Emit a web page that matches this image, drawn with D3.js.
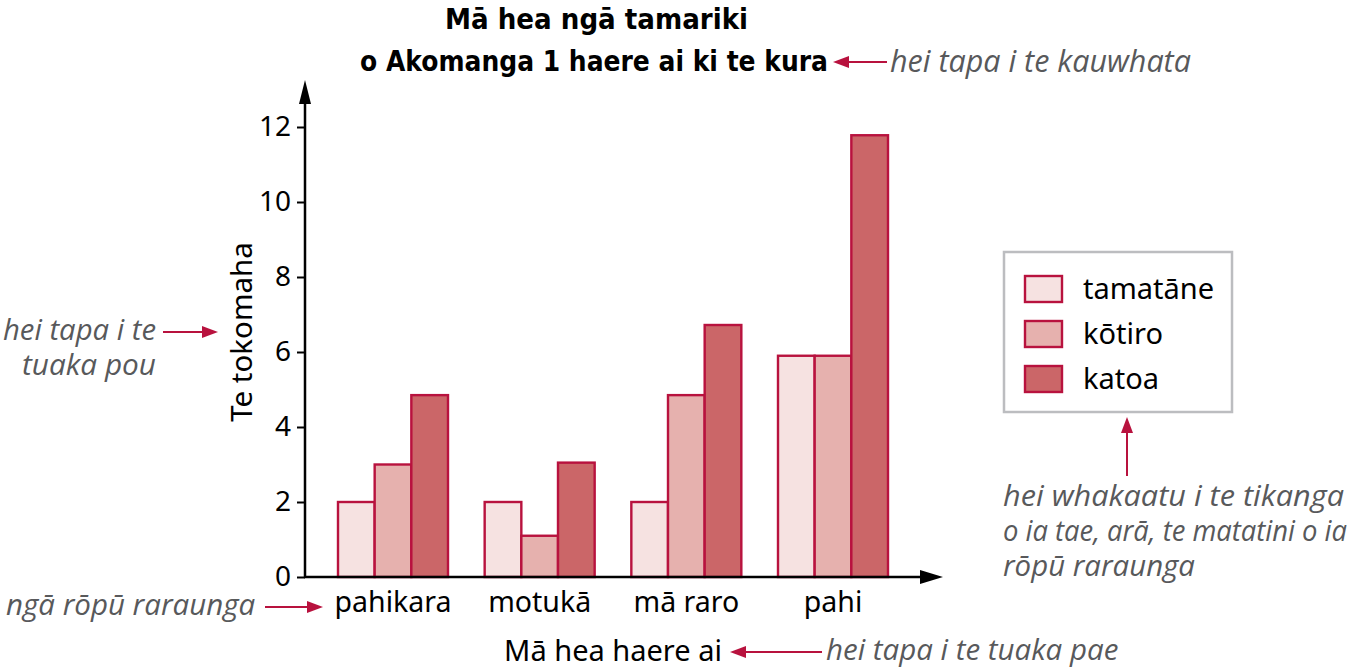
<!DOCTYPE html>
<html>
<head>
<meta charset="utf-8">
<script src="https://cdn.jsdelivr.net/npm/d3@7"></script>
<style>
  html, body { margin: 0; padding: 0; background: #fff; }
  svg { display: block; }
  text { font-family: "Noto Sans", "Open Sans", sans-serif; }
</style>
</head>
<body>
<svg id="chart" width="1361" height="671"></svg>
<script>
const categories = ["pahikara", "motukā", "mā raro", "pahi"];
const seriesNames = ["tamatāne", "kōtiro", "katoa"];
const tamatane = [2, 2, 2, 5.9];
const kotiro = [3, 1.1, 4.85, 5.9];
const katoa = [4.85, 3.05, 6.72, 11.78];
const yTicks = [0, 2, 4, 6, 8, 10, 12];

const seriesValues = [tamatane, kotiro, katoa];
const fills = ["#f6e2e1", "#e6b1ae", "#cb6668"];
const edge = "#b8123e";
const noteColor = "#58595b";

const svg = d3.select("#chart");

const originX = 305, originY = 577;

const x = d3.scaleBand()
  .domain(categories)
  .range([338, 888])
  .paddingInner(0.25)
  .paddingOuter(0);

const xInner = d3.scaleBand()
  .domain(seriesNames)
  .range([0, x.bandwidth()])
  .padding(0);

const y = d3.scaleLinear()
  .domain([0, 12])
  .range([originY, 127]);

// bars
const groups = svg.append("g")
  .selectAll("g")
  .data(categories)
  .join("g")
  .attr("transform", d => `translate(${x(d)},0)`);

groups.selectAll("rect")
  .data((d, i) => seriesNames.map((s, j) => ({ s, v: seriesValues[j][i], j })))
  .join("rect")
  .attr("x", d => xInner(d.s))
  .attr("y", d => y(d.v))
  .attr("width", xInner.bandwidth())
  .attr("height", d => y(0) - y(d.v))
  .attr("fill", d => fills[d.j])
  .attr("stroke", edge)
  .attr("stroke-width", 2.4);

// y axis
const yAxis = svg.append("g")
  .attr("transform", `translate(${originX},0)`)
  .call(d3.axisLeft(y).tickValues(yTicks).tickSize(8).tickPadding(6).tickFormat(d3.format("d")));
yAxis.select(".domain").remove();
yAxis.selectAll(".tick line").attr("stroke", "#000").attr("stroke-width", 2);
yAxis.selectAll(".tick text")
  .attr("font-size", 28)
  .attr("fill", "#000")
  .style("font-family", '"Noto Sans", sans-serif');

// axis lines with arrows
svg.append("line")
  .attr("x1", originX).attr("y1", originY + 1)
  .attr("x2", originX).attr("y2", 100)
  .attr("stroke", "#000").attr("stroke-width", 2.5);
svg.append("path")
  .attr("d", `M${originX - 6},104 L${originX},80 L${originX + 6},104 Z`)
  .attr("fill", "#000");

svg.append("line")
  .attr("x1", originX - 1).attr("y1", originY)
  .attr("x2", 925).attr("y2", originY)
  .attr("stroke", "#000").attr("stroke-width", 2.5);
svg.append("path")
  .attr("d", `M920,${originY - 7} L943,${originY} L920,${originY + 7} Z`)
  .attr("fill", "#000");

// x category labels
svg.append("g")
  .selectAll("text")
  .data(categories)
  .join("text")
  .attr("x", d => x(d) + x.bandwidth() / 2)
  .attr("y", 612)
  .attr("text-anchor", "middle")
  .attr("font-size", 28.5)
  .text(d => d);

// titles
const titleFont = '"DejaVu Sans", "Noto Sans", sans-serif';
svg.append("text")
  .attr("x", 445).attr("y", 29)
  .attr("font-size", 29)
  .attr("font-weight", "bold")
  .attr("textLength", 303)
  .attr("lengthAdjust", "spacingAndGlyphs")
  .style("font-family", titleFont)
  .text("Mā hea ngā tamariki");
svg.append("text")
  .attr("x", 360).attr("y", 71)
  .attr("font-size", 29)
  .attr("font-weight", "bold")
  .attr("textLength", 468)
  .attr("lengthAdjust", "spacingAndGlyphs")
  .style("font-family", titleFont)
  .text("o Akomanga 1 haere ai ki te kura");

// y axis title
svg.append("text")
  .attr("transform", "translate(252,332) rotate(-90)")
  .attr("text-anchor", "middle")
  .attr("font-size", 29.5)
  .text("Te tokomaha");

// x axis title
svg.append("text")
  .attr("x", 613).attr("y", 661)
  .attr("text-anchor", "middle")
  .attr("font-size", 29)
  .text("Mā hea haere ai");

// legend
const legend = svg.append("g");
legend.append("rect")
  .attr("x", 1004).attr("y", 252)
  .attr("width", 228).attr("height", 160)
  .attr("fill", "#fff")
  .attr("stroke", "#bcbdc0")
  .attr("stroke-width", 2.5);
const legendY = d3.scalePoint().domain(seriesNames).range([289, 379]);
seriesNames.forEach((s, j) => {
  legend.append("rect")
    .attr("x", 1025).attr("y", legendY(s) - 13)
    .attr("width", 37).attr("height", 26)
    .attr("fill", fills[j])
    .attr("stroke", edge)
    .attr("stroke-width", 2.4);
  legend.append("text")
    .attr("x", 1083).attr("y", legendY(s) + 10)
    .attr("font-size", 29)
    .text(s);
});

// annotations
const arrowColor = "#b8123e";
function arrow(x1, y1, x2, y2) {
  const a = Math.atan2(y2 - y1, x2 - x1);
  const len = 16, w = 6;
  const bx = x2 - Math.cos(a) * len, by = y2 - Math.sin(a) * len;
  svg.append("line")
    .attr("x1", x1).attr("y1", y1).attr("x2", bx).attr("y2", by)
    .attr("stroke", arrowColor).attr("stroke-width", 2);
  svg.append("path")
    .attr("d", `M${x2},${y2} L${bx - Math.sin(a) * w},${by + Math.cos(a) * w} L${bx + Math.sin(a) * w},${by - Math.cos(a) * w} Z`)
    .attr("fill", arrowColor);
}
// widths: optional per-line target widths
function note(lines, xPos, yPos, anchor, lineH, size, widths) {
  const t = svg.append("text")
    .attr("x", xPos).attr("y", yPos)
    .attr("text-anchor", anchor)
    .attr("font-size", size)
    .attr("font-style", "italic")
    .attr("fill", noteColor)
    .style("font-family", '"Open Sans", "Noto Sans", sans-serif');
  lines.forEach((l, i) => {
    const s = t.append("tspan").attr("x", xPos).attr("dy", i === 0 ? 0 : lineH).text(l);
    if (widths) s.attr("textLength", widths[i]).attr("lengthAdjust", "spacingAndGlyphs");
  });
}

arrow(887, 62, 833, 62);
note(["hei tapa i te kauwhata"], 890, 72, "start", 36, 30.5);

arrow(163, 332, 218, 332);
note(["hei tapa i te", "tuaka pou"], 156, 340, "end", 35, 28.5, [153, 134]);

arrow(1127, 476, 1127, 417);
note(["hei whakaatu i te tikanga", "o ia tae, arā, te matatini o ia", "rōpū raraunga"], 1003, 506, "start", 35, 28.5, [341, 344, 192]);

arrow(265, 607, 323, 607);
note(["ngā rōpū raraunga"], 6, 615, "start", 36, 29.5);

arrow(822, 652, 730, 652);
note(["hei tapa i te tuaka pae"], 826, 660, "start", 36, 29.5);
</script>
</body>
</html>
